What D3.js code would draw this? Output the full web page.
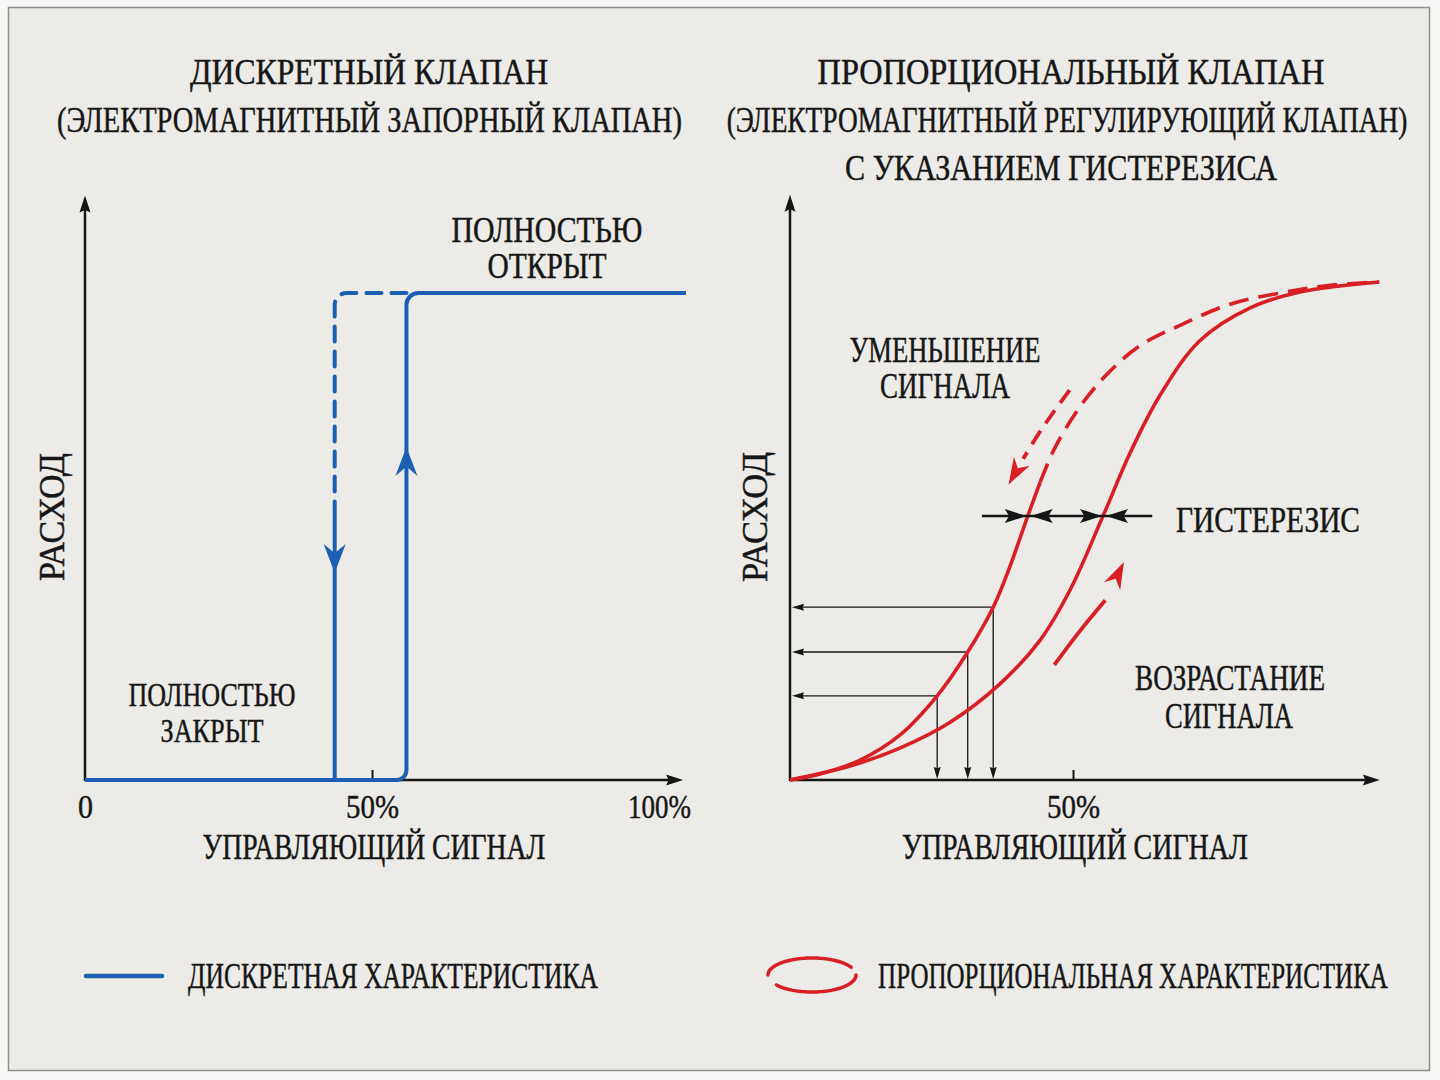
<!DOCTYPE html>
<html>
<head>
<meta charset="utf-8">
<script src="https://cdn.jsdelivr.net/npm/d3@7"></script>
<style>
  body { margin: 0; background: #f6f6f5; }
  text { font-family: 'Liberation Serif', 'Times New Roman', serif; fill: #161616;
         stroke: #161616; stroke-width: 0.45px; }
</style>
</head>
<body>
<div id="svg"></div>
<script>
// ---- data ----
// discrete valve (signal %, flow %)
const openAt = 56          // switches open when rising
const closeAt = 43.5       // switches closed when falling
const discreteEnd = 104.7  // blue line runs a bit past 100%
const dashFromFlow = 54    // falling branch dashed above this flow
const blueArrowFlow = [42.5, 68.4]   // down arrow on close line, up arrow on open line
const leftTicks = [0, 50, 100]
const leftTickLabels = ['0', '50%', '100%']

// proportional valve (signal %, flow %)
const riseSignal = [0, 10.6, 19.4, 28.3, 37.1, 44.2, 49.5, 55.3, 60.1, 65.4, 72.4, 81.3, 90.1, 104.1]
const riseFlow   = [0, 2.8, 6.4, 11.6, 19.3, 28.1, 38.2, 53.0, 65.7, 77.3, 88.2, 94.8, 98.0, 100]
const fallSignal = [0, 5.3, 12.4, 19.4, 26.0, 31.4, 35.9, 38.9, 42.0, 44.2]
const fallFlow   = [0, 1.2, 4.0, 9.0, 16.9, 25.7, 34.7, 43.0, 53.0, 59.8]
const fallDashSignal = [44.2, 46.8, 51.2, 55.7, 61.7, 69.1, 77.9, 87.6, 95.1, 104.1]
const fallDashFlow   = [59.8, 66.7, 74.9, 81.1, 87.1, 91.4, 95.6, 98.0, 99.3, 100]
const projSignal = [26.0, 31.4, 35.9]
const projFlow   = [16.9, 25.7, 34.7]
const hystFlow = 53.0
const hystSignal = [42.0, 55.3]
const hystSpan = [33.9, 64]
const fallArrowSignal = [49.4, 46.7, 43.8, 41.2, 38.6]
const fallArrowFlow   = [78.3, 74.1, 69.3, 64.5, 59.3]
const riseArrowSignal = [46.7, 51.2, 55.7, 59]
const riseArrowFlow   = [23.1, 29.9, 36.1, 43.8]
const rightTicks = [50]
const rightTickLabels = ['50%']

const blue = '#1b5fb4', red = '#d81f26', ink = '#161616'

const svg = d3.select('#svg').append('svg').attr('width', 1440).attr('height', 1080)
svg.append('rect').attr('x', 8.5).attr('y', 7.5).attr('width', 1421).attr('height', 1063)
  .attr('fill', '#ecebe7').attr('stroke', '#8e8e8e').attr('stroke-width', 1.5)

// condensed serif look: squeeze each label to the width it has in the figure
const label = (g, s, x, y, w, size = 35, rot = false) => {
  const t = g.append('text').attr('dy', '0.35em').attr('text-anchor', 'middle')
    .attr('font-size', size).text(s)
  const k = w / t.node().getComputedTextLength()
  t.attr('transform', `translate(${x},${y})${rot ? 'rotate(-90)' : ''}scale(${k},1)`)
  return t
}

// arrowhead with its tip at `tip`, pointing away from `from`
const head = (g, tip, from, len, wid, color, notch = 0.72) => {
  const a = Math.atan2(tip[1] - from[1], tip[0] - from[0]) * 180 / Math.PI
  g.append('path')
    .attr('d', `M0,0L${-len},${-wid / 2}L${-len * notch},0L${-len},${wid / 2}Z`)
    .attr('transform', `translate(${tip[0]},${tip[1]})rotate(${a})`)
    .attr('fill', color)
}

const drawAxes = (g, x, y, xMax, yMax, ticks, tickLabels, tickW) => {
  g.append('line').attr('x1', x(0)).attr('y1', y(0)).attr('x2', x(xMax) - 10).attr('y2', y(0))
    .attr('stroke', ink).attr('stroke-width', 2.5)
  head(g, [x(xMax), y(0)], [x(0), y(0)], 17, 11, ink, 0.85)
  g.append('line').attr('x1', x(0)).attr('y1', y(0) + 1).attr('x2', x(0)).attr('y2', y(yMax) + 10)
    .attr('stroke', ink).attr('stroke-width', 2.5)
  head(g, [x(0), y(yMax)], [x(0), y(0)], 17, 11, ink, 0.85)

  const ax = g.append('g').attr('transform', `translate(0,${y(0)})`)
    .call(d3.axisBottom(x).tickValues(ticks).tickSize(-10).tickPadding(15)
      .tickFormat((d, i) => tickLabels[i]))
  ax.select('.domain').remove()
  ax.selectAll('.tick line').attr('stroke', ink).attr('stroke-width', 2)
    .filter(d => d !== 50).remove()
  ax.selectAll('.tick text').attr('font-size', 33).attr('fill', ink)
    .attr('font-family', "'Liberation Serif', serif")
    .each(function (d, i) {
      const k = tickW[i] / this.getComputedTextLength()
      d3.select(this).attr('transform', `scale(${k},1)`)
    })
}

// ---------- left: discrete valve ----------
const xL = d3.scaleLinear().domain([0, 100]).range([85, 659])
const yL = d3.scaleLinear().domain([0, 100]).range([780, 293])
const gl = svg.append('g')

label(gl, 'ДИСКРЕТНЫЙ КЛАПАН', 369, 72, 358)
label(gl, '(ЭЛЕКТРОМАГНИТНЫЙ ЗАПОРНЫЙ КЛАПАН)', 369.5, 120, 625)

drawAxes(gl, xL, yL, 104.2, 120, leftTicks, leftTickLabels, [15, 53, 63])

// falling branch: dashed top part, solid lower part
const pd = d3.path()
pd.moveTo(xL(openAt), yL(100))
pd.arcTo(xL(closeAt), yL(100), xL(closeAt), yL(0), 12)
pd.lineTo(xL(closeAt), yL(dashFromFlow))
gl.append('path').attr('d', pd.toString()).attr('fill', 'none').attr('stroke', blue)
  .attr('stroke-width', 4).attr('stroke-dasharray', '15,10').attr('stroke-linecap', 'round')
gl.append('line').attr('x1', xL(closeAt)).attr('y1', yL(dashFromFlow))
  .attr('x2', xL(closeAt)).attr('y2', yL(0)).attr('stroke', blue).attr('stroke-width', 4)

// rising branch with rounded corners
const ps = d3.path()
ps.moveTo(xL(0), yL(0))
ps.arcTo(xL(openAt), yL(0), xL(openAt), yL(100), 10)
ps.arcTo(xL(openAt), yL(100), xL(discreteEnd), yL(100), 12)
ps.lineTo(xL(discreteEnd), yL(100))
gl.append('path').attr('d', ps.toString()).attr('fill', 'none').attr('stroke', blue).attr('stroke-width', 4)

head(gl, [xL(closeAt), yL(blueArrowFlow[0])], [xL(closeAt), yL(100)], 29, 22, blue, 0.68)
head(gl, [xL(openAt), yL(blueArrowFlow[1])], [xL(openAt), yL(0)], 29, 22, blue, 0.68)

label(gl, 'ПОЛНОСТЬЮ', 547, 230, 191)
label(gl, 'ОТКРЫТ', 547, 266, 119)
label(gl, 'ПОЛНОСТЬЮ', 212, 694, 167, 33)
label(gl, 'ЗАКРЫТ', 212, 730, 103, 33)
label(gl, 'РАСХОД', 52, 517, 128, 35, true)
label(gl, 'УПРАВЛЯЮЩИЙ СИГНАЛ', 374, 847, 343)

// ---------- right: proportional valve ----------
const xR = d3.scaleLinear().domain([0, 100]).range([790, 1356])
const yR = d3.scaleLinear().domain([0, 100]).range([780, 282])
const gr = svg.append('g')

label(gr, 'ПРОПОРЦИОНАЛЬНЫЙ КЛАПАН', 1071, 72, 507)
label(gr, '(ЭЛЕКТРОМАГНИТНЫЙ РЕГУЛИРУЮЩИЙ КЛАПАН)', 1067, 120, 681)
label(gr, 'С УКАЗАНИЕМ ГИСТЕРЕЗИСА', 1061, 168, 432)

drawAxes(gr, xR, yR, 104.2, 117.5, rightTicks, rightTickLabels, [53])

const zip = (a, b) => a.map((v, i) => [v, b[i]])
const line = d3.line().x(d => xR(d[0])).y(d => yR(d[1])).curve(d3.curveCatmullRom.alpha(0.5))

// projection arrows from the falling curve to both axes
projSignal.forEach((s, i) => {
  const px = xR(s), py = yR(projFlow[i])
  gr.append('line').attr('x1', px).attr('y1', py).attr('x2', xR(0) + 8).attr('y2', py)
    .attr('stroke', ink).attr('stroke-width', 1.3)
  head(gr, [xR(0) + 2, py], [px, py], 12, 7, ink, 0.9)
  gr.append('line').attr('x1', px).attr('y1', py).attr('x2', px).attr('y2', yR(0) - 8)
    .attr('stroke', ink).attr('stroke-width', 1.3)
  head(gr, [px, yR(0) - 1], [px, py], 12, 7, ink, 0.9)
})

gr.append('path').attr('d', line(zip(riseSignal, riseFlow))).attr('fill', 'none')
  .attr('stroke', red).attr('stroke-width', 3.6)
gr.append('path').attr('d', line(zip(fallSignal, fallFlow))).attr('fill', 'none')
  .attr('stroke', red).attr('stroke-width', 3.6)
gr.append('path').attr('d', line(zip(fallDashSignal, fallDashFlow))).attr('fill', 'none')
  .attr('stroke', red).attr('stroke-width', 3.6).attr('stroke-dasharray', '20,10')

// hysteresis markers
const hy = yR(hystFlow)
gr.append('line').attr('x1', xR(hystSpan[0])).attr('y1', hy).attr('x2', xR(hystSpan[1])).attr('y2', hy)
  .attr('stroke', ink).attr('stroke-width', 2.5)
hystSignal.forEach(s => {
  head(gr, [xR(s) - 1, hy], [xR(s) - 30, hy], 22, 14, ink, 0.8)
  head(gr, [xR(s) + 3, hy], [xR(s) + 30, hy], 22, 14, ink, 0.8)
})

// direction arrows along the curves
const arrowLine = d3.line().x(d => xR(d[0])).y(d => yR(d[1])).curve(d3.curveCatmullRom)
const drawRedArrow = (sig, flo, dash) => {
  const pts = zip(sig, flo)
  const tip = [xR(pts[pts.length - 1][0]), yR(pts[pts.length - 1][1])]
  const prev = [xR(pts[pts.length - 2][0]), yR(pts[pts.length - 2][1])]
  const body = pts.slice(0, -1)
  gr.append('path').attr('d', arrowLine(body)).attr('fill', 'none').attr('stroke', red)
    .attr('stroke-width', 3.8).attr('stroke-dasharray', dash)
  head(gr, tip, prev, 27, 18, red, 0.7)
}
drawRedArrow(fallArrowSignal, fallArrowFlow, '16,9')
drawRedArrow(riseArrowSignal, riseArrowFlow, null)

label(gr, 'УМЕНЬШЕНИЕ', 945, 350, 191)
label(gr, 'СИГНАЛА', 945, 386, 130)
label(gr, 'ГИСТЕРЕЗИС', 1268, 520, 184)
label(gr, 'ВОЗРАСТАНИЕ', 1230, 678, 190)
label(gr, 'СИГНАЛА', 1229, 716, 128)
label(gr, 'РАСХОД', 755, 517, 130, 35, true)
label(gr, 'УПРАВЛЯЮЩИЙ СИГНАЛ', 1075, 847, 346)

// ---------- legend ----------
const lg = svg.append('g')
lg.append('line').attr('x1', 86).attr('y1', 976).attr('x2', 162).attr('y2', 976)
  .attr('stroke', blue).attr('stroke-width', 4.5).attr('stroke-linecap', 'round')
label(lg, 'ДИСКРЕТНАЯ ХАРАКТЕРИСТИКА', 393, 976, 410)

const ell = d3.line().x(t => 812 + 44 * Math.cos(t)).y(t => 975 - 17 * Math.sin(t))
const deg = Math.PI / 180
lg.append('path').attr('d', ell(d3.range(27, 181, 3).map(a => a * deg)))
  .attr('fill', 'none').attr('stroke', red).attr('stroke-width', 3.5).attr('stroke-linecap', 'round')
lg.append('path').attr('d', ell(d3.range(216, 361, 3).map(a => a * deg)))
  .attr('fill', 'none').attr('stroke', red).attr('stroke-width', 3.5).attr('stroke-linecap', 'round')
label(lg, 'ПРОПОРЦИОНАЛЬНАЯ ХАРАКТЕРИСТИКА', 1133, 976, 510)
</script>
</body>
</html>
